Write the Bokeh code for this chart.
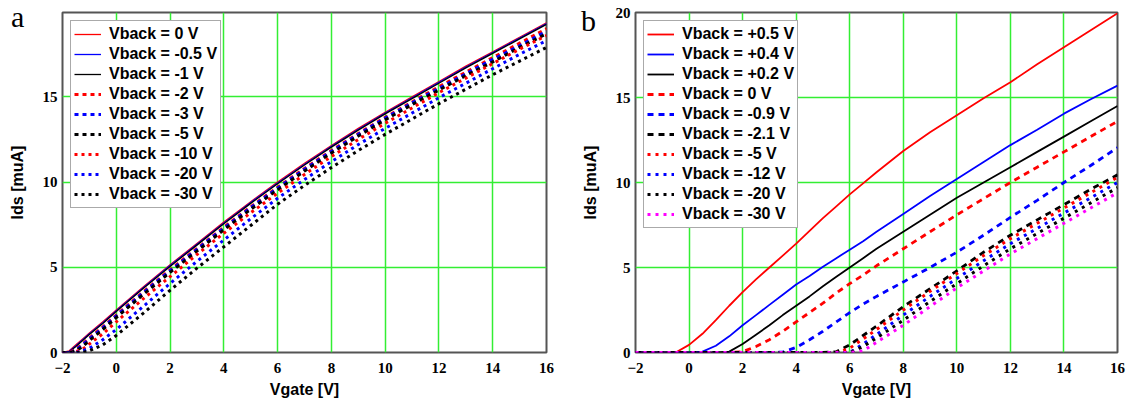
from bokeh.plotting import figure
from bokeh.models import FixedTicker, Range1d, Div
from bokeh.layouts import row, column
from bokeh.embed import file_html
from bokeh.resources import INLINE

# ---------------- panel a ----------------
VG_A = [-2, -1.75, -1.5, -1.25, -1, -0.5, 0, 1, 2, 3, 4, 5, 6, 7, 8, 9, 10, 11, 12, 13, 14, 15, 16]
A_LABELS = ["Vback = 0 V", "Vback = -0.5 V", "Vback = -1 V", "Vback = -2 V", "Vback = -3 V",
            "Vback = -5 V", "Vback = -10 V", "Vback = -20 V", "Vback = -30 V"]
A_0 = [0, 0.1, 0.45, 0.8, 1.15, 1.8, 2.5, 3.85, 5.15, 6.4, 7.65, 8.85, 10.0, 11.1, 12.15, 13.15, 14.1, 15.0, 15.9, 16.8, 17.65, 18.5, 19.35]
A_M05 = [0, 0.07, 0.4, 0.75, 1.1, 1.75, 2.45, 3.8, 5.1, 6.35, 7.6, 8.8, 9.95, 11.05, 12.1, 13.1, 14.05, 14.95, 15.85, 16.75, 17.6, 18.45, 19.3]
A_M1 = [0, 0.04, 0.35, 0.7, 1.05, 1.7, 2.4, 3.75, 5.05, 6.3, 7.55, 8.75, 9.9, 11.0, 12.05, 13.05, 14.0, 14.9, 15.8, 16.7, 17.55, 18.4, 19.25]
A_M2 = [0, 0, 0.2, 0.5, 0.85, 1.5, 2.2, 3.55, 4.85, 6.1, 7.35, 8.55, 9.7, 10.8, 11.85, 12.85, 13.8, 14.7, 15.6, 16.45, 17.3, 18.15, 19.0]
A_M3 = [0, 0, 0.15, 0.45, 0.8, 1.45, 2.15, 3.5, 4.8, 6.05, 7.3, 8.5, 9.65, 10.75, 11.8, 12.8, 13.75, 14.65, 15.5, 16.35, 17.2, 18.0, 18.85]
A_M5 = [0, 0, 0.1, 0.35, 0.7, 1.35, 2.05, 3.4, 4.7, 5.95, 7.2, 8.4, 9.55, 10.65, 11.7, 12.7, 13.65, 14.55, 15.4, 16.25, 17.05, 17.9, 18.7]
A_M10 = [0, 0, 0.05, 0.2, 0.5, 1.1, 1.8, 3.15, 4.45, 5.75, 7.0, 8.2, 9.35, 10.45, 11.5, 12.5, 13.45, 14.35, 15.25, 16.1, 16.95, 17.8, 18.6]
A_M20 = [0, 0, 0, 0.1, 0.25, 0.75, 1.35, 2.7, 4.05, 5.35, 6.6, 7.85, 9.05, 10.15, 11.2, 12.2, 13.15, 14.05, 14.95, 15.8, 16.65, 17.5, 18.3]
A_M30 = [0, 0, 0, 0, 0.1, 0.45, 1.0, 2.3, 3.65, 4.95, 6.2, 7.45, 8.7, 9.8, 10.85, 11.85, 12.8, 13.7, 14.6, 15.45, 16.3, 17.1, 17.9]

# ---------------- panel b ----------------
VG_B = [-2, -1, -0.5, 0, 0.5, 1, 1.5, 2, 2.5, 3, 3.5, 4, 4.5, 5, 5.5, 6, 6.5, 7, 8, 9, 10, 11, 12, 13, 14, 15, 16]
B_LABELS = ["Vback = +0.5 V", "Vback = +0.4 V", "Vback = +0.2 V", "Vback = 0 V", "Vback = -0.9 V",
            "Vback = -2.1 V", "Vback = -5 V", "Vback = -12 V", "Vback = -20 V", "Vback = -30 V"]
B_P05 = [0, 0, 0, 0.45, 1.1, 1.9, 2.75, 3.55, 4.3, 5.0, 5.7, 6.4, 7.15, 7.9, 8.6, 9.3, 9.95, 10.6, 11.85, 12.95, 13.95, 14.95, 15.9, 16.95, 17.95, 18.95, 19.95]
B_P04 = [0, 0, 0, 0, 0.05, 0.4, 0.95, 1.6, 2.2, 2.8, 3.4, 4.0, 4.5, 5.05, 5.55, 6.05, 6.55, 7.1, 8.15, 9.2, 10.2, 11.2, 12.2, 13.1, 14.05, 14.9, 15.7]
B_P02 = [0, 0, 0, 0, 0, 0, 0.05, 0.5, 1.05, 1.6, 2.2, 2.75, 3.3, 3.9, 4.45, 5.0, 5.55, 6.1, 7.1, 8.1, 9.1, 10.0, 10.9, 11.8, 12.7, 13.6, 14.5]
B_0 = [0, 0, 0, 0, 0, 0, 0, 0.05, 0.35, 0.75, 1.25, 1.8, 2.35, 2.9, 3.5, 4.05, 4.55, 5.1, 6.1, 7.1, 8.1, 9.05, 10.0, 10.9, 11.8, 12.7, 13.6]
B_M09 = [0, 0, 0, 0, 0, 0, 0, 0, 0, 0, 0.02, 0.3, 0.75, 1.25, 1.8, 2.35, 2.85, 3.3, 4.15, 5.0, 5.9, 6.9, 7.95, 8.95, 10.0, 11.0, 12.05]
B_M21 = [0, 0, 0, 0, 0, 0, 0, 0, 0, 0, 0, 0, 0, 0, 0.05, 0.45, 1.0, 1.55, 2.7, 3.75, 4.8, 5.9, 6.9, 7.8, 8.7, 9.6, 10.45]
B_M5 = [0, 0, 0, 0, 0, 0, 0, 0, 0, 0, 0, 0, 0, 0, 0, 0.25, 0.8, 1.35, 2.5, 3.6, 4.65, 5.7, 6.7, 7.6, 8.5, 9.4, 10.3]
B_M12 = [0, 0, 0, 0, 0, 0, 0, 0, 0, 0, 0, 0, 0, 0, 0, 0, 0.5, 1.05, 2.2, 3.3, 4.35, 5.4, 6.4, 7.3, 8.2, 9.1, 10.0]
B_M20 = [0, 0, 0, 0, 0, 0, 0, 0, 0, 0, 0, 0, 0, 0, 0, 0, 0.35, 0.85, 1.9, 3.0, 4.05, 5.1, 6.1, 7.0, 7.9, 8.8, 9.7]
B_M30 = [0, 0, 0, 0, 0, 0, 0, 0, 0, 0, 0, 0, 0, 0, 0, 0, 0.1, 0.6, 1.6, 2.7, 3.8, 4.8, 5.8, 6.7, 7.6, 8.5, 9.4]

X_TICKS = [-2, 0, 2, 4, 6, 8, 10, 12, 14, 16]
X_GRID = [0, 2, 4, 6, 8, 10, 12, 14]
YA_TICKS = [0, 5, 10, 15]
YB_TICKS = [0, 5, 10, 15, 20]
PANEL_LETTERS = ["a", "b"]

SANS = "Liberation Sans"
SERIF = "Liberation Serif"
GRID_COLOR = "#33ee33"


def style(p, yticks):
    p.xaxis.ticker = FixedTicker(ticks=X_TICKS)
    p.yaxis.ticker = FixedTicker(ticks=yticks)
    p.xaxis.major_label_overrides = {-2: "\u22122"}
    p.xgrid.ticker = FixedTicker(ticks=X_GRID)
    p.ygrid.ticker = FixedTicker(ticks=[t for t in yticks if t > 0])
    for g in (p.xgrid, p.ygrid):
        g.grid_line_color = GRID_COLOR
        g.grid_line_width = 1.5
    for ax in (p.xaxis, p.yaxis):
        ax.axis_line_color = None
        ax.major_tick_out = 0
        ax.major_tick_in = 0
        ax.minor_tick_out = 0
        ax.minor_tick_in = 0
        ax.major_label_text_font = SERIF
        ax.major_label_text_font_style = "bold"
        ax.major_label_text_font_size = "15px"
        ax.major_label_text_color = "black"
        ax.axis_label_text_font = SANS
        ax.axis_label_text_font_style = "bold"
        ax.axis_label_text_font_size = "16px"
        ax.axis_label_text_color = "black"
    p.xaxis.axis_label = "Vgate [V]"
    p.yaxis.axis_label = "Ids [muA]"
    p.xaxis.major_label_standoff = 10
    p.xaxis.axis_label_standoff = 5
    p.yaxis.major_label_standoff = 5
    p.yaxis.axis_label_standoff = 14
    p.outline_line_color = "#555555"
    p.outline_line_width = 2
    p.outline_line_alpha = 1
    p.background_fill_color = "white"
    p.border_fill_color = None


def style_legend(p):
    lg = p.legend[0]
    lg.location = "top_left"
    lg.margin = 8
    lg.padding = 3
    lg.spacing = 0
    lg.glyph_width = 27
    lg.glyph_height = 20
    lg.label_height = 20
    lg.label_standoff = 8
    lg.label_text_font = SANS
    lg.label_text_font_style = "bold"
    lg.label_text_font_size = "16px"
    lg.label_text_color = "black"
    lg.border_line_color = "#555555"
    lg.border_line_width = 1.5
    lg.background_fill_color = "white"
    lg.background_fill_alpha = 1


# ---------- figure a ----------
pa = figure(width=555, height=405, x_range=Range1d(-2, 16), y_range=Range1d(0, 19.95),
            output_backend="svg", toolbar_location=None,
            min_border_left=62, min_border_right=9, min_border_top=11, min_border_bottom=53)
style(pa, YA_TICKS)

series_a = [
    (A_0, "red", "solid", 1.3),
    (A_M05, "blue", "solid", 1.3),
    (A_M1, "black", "solid", 1.3),
    (A_M2, "red", "4 4", 3),
    (A_M3, "blue", "4 4", 3),
    (A_M5, "black", "4 4", 3),
    (A_M10, "red", "3 4", 3),
    (A_M20, "blue", "3 4", 3),
    (A_M30, "black", "3 4", 3),
]
for (ys, col, dash, w), lab in zip(series_a, A_LABELS):
    pa.line(VG_A, ys, line_color=col, line_dash=dash, line_width=w, legend_label=lab)
style_legend(pa)

# ---------- figure b ----------
pb = figure(width=576, height=405, x_range=Range1d(-2, 16), y_range=Range1d(0, 20),
            output_backend="svg", toolbar_location=None,
            min_border_left=80, min_border_right=14, min_border_top=12, min_border_bottom=53)
style(pb, YB_TICKS)

series_b = [
    (B_P05, "red", "solid", 1.8),
    (B_P04, "blue", "solid", 1.8),
    (B_P02, "black", "solid", 1.8),
    (B_0, "red", "6 5", 2.8),
    (B_M09, "blue", "6 5", 2.8),
    (B_M21, "black", "6 5", 2.8),
    (B_M5, "red", "3 5", 3),
    (B_M12, "blue", "3 5", 3),
    (B_M20, "black", "3 5", 3),
    (B_M30, "magenta", "3 5", 3),
]
for (ys, col, dash, w), lab in zip(series_b, B_LABELS):
    pb.line(VG_B, ys, line_color=col, line_dash=dash, line_width=w, legend_label=lab)
style_legend(pb)

# panel letters, overlaid on the transparent figure borders
letters_html = (
    '<div style="position:relative;width:1131px;height:34px;'
    'font-family:\'Liberation Serif\';font-size:30px;line-height:30px;color:black;">'
    '<span style="position:absolute;left:11px;top:2px;">%s</span>'
    '<span style="position:absolute;left:581px;top:6px;">%s</span>'
    '</div>' % (PANEL_LETTERS[0], PANEL_LETTERS[1])
)
letters = Div(text=letters_html, width=1131, height=34, margin=(0, 0, -34, 0))

layout = column(letters, row(pa, pb))
open("out.html", "w").write(file_html(layout, INLINE))
